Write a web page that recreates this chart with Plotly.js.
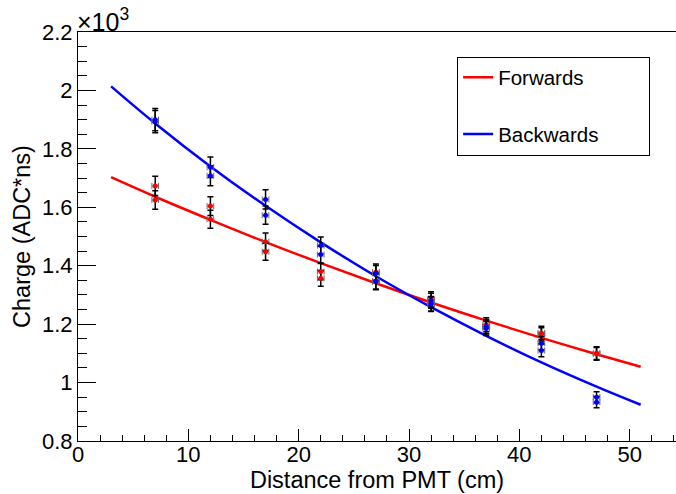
<!DOCTYPE html>
<html>
<head>
<meta charset="utf-8">
<script src="https://cdn.plot.ly/plotly-3.0.1.min.js"></script>
<style>html,body{margin:0;padding:0;background:#fff;}#chart{width:676px;height:494px;}</style>
</head>
<body>
<div id="chart"></div>
<script>
// Measured points (cm, charge in 10^3 ADC*ns)
const xPoints = [7,7,12,12,17,17,22,22,27,27,32,32,37,37,42,42,47,47];
const forwardsCharge = [1.673,1.625,1.604,1.559,1.482,1.448,1.380,1.357,1.378,1.345,1.285,1.270,1.198,1.190,1.170,1.165,1.101,1.098];
const forwardsErr = [0.033,0.032,0.032,0.031,0.030,0.029,0.028,0.027,0.028,0.027,0.026,0.025,0.024,0.024,0.023,0.023,0.022,0.022];
const backwardsCharge = [1.900,1.893,1.737,1.708,1.627,1.573,1.469,1.438,1.374,1.347,1.280,1.268,1.192,1.185,1.135,1.110,0.950,0.933];
const backwardsErr = [0.038,0.038,0.035,0.034,0.033,0.031,0.029,0.029,0.027,0.027,0.026,0.025,0.024,0.024,0.023,0.022,0.019,0.019];
const xErr = [0.3,0.3,0.3,0.3,0.3,0.3,0.3,0.3,0.3,0.3,0.3,0.3,0.3,0.3,0.3,0.3,0.3,0.3];

// Fit curves
const xFit = [3,7,12,17,22,27,32,37,42,47,51];
const forwardsFit = [1.703,1.636,1.557,1.481,1.409,1.340,1.274,1.212,1.153,1.097,1.054];
const backwardsFit = [2.014,1.887,1.740,1.605,1.480,1.364,1.258,1.160,1.069,0.986,0.924];

const seriesNames = ['Forwards', 'Backwards'];

const yTickVals = [0.8,1.0,1.2,1.4,1.6,1.8,2.0,2.2];
const yTickText = ['0.8','1','1.2','1.4','1.6','1.8','2','2.2'];
const xTickVals = [0,10,20,30,40,50];
const xTickText = ['0','10','20','30','40','50'];

const FONT = 'Liberation Sans, Arial, Helvetica, sans-serif';
const PAD = '\u00a0\u00a0\u00a0\u00a0\u00a0\u00a0\u00a0\u00a0';

function pointTrace(y, err, color) {
  return {
    x: xPoints, y: y, type: 'scatter', mode: 'markers', showlegend: false,
    marker: {color: color, size: 5},
    error_x: {type: 'data', array: xErr, visible: true, color: '#666', thickness: 1, width: 3},
    error_y: {type: 'data', array: err, visible: true, color: '#000', thickness: 1.5, width: 3},
    hoverinfo: 'skip'
  };
}

const traces = [
  {x: xFit, y: forwardsFit, type: 'scatter', mode: 'lines', name: seriesNames[0] + PAD,
   line: {color: '#ff0000', width: 2.5, shape: 'spline'}, legendgroup: 'f'},
  {x: xFit, y: backwardsFit, type: 'scatter', mode: 'lines', name: seriesNames[1] + PAD,
   line: {color: '#0000ff', width: 2.5, shape: 'spline'}, legendgroup: 'b'},
  pointTrace(forwardsCharge, forwardsErr, '#ff0000'),
  pointTrace(backwardsCharge, backwardsErr, '#0000ff')
];

const layout = {
  width: 676, height: 494,
  margin: {l: 78, r: 0, t: 32, b: 53, pad: 0},
  paper_bgcolor: '#fff', plot_bgcolor: '#fff',
  font: {family: FONT, size: 22, color: '#000'},
  showlegend: true,
  legend: {
    x: 0.634, y: 0.94, xanchor: 'left', yanchor: 'top',
    bordercolor: '#000', borderwidth: 1, bgcolor: '#fff',
    font: {family: FONT, size: 20.5, color: '#000'},
    traceorder: 'grouped', tracegroupgap: 27,
    itemwidth: 30
  },
  xaxis: {
    range: [0, 54.2], showgrid: false, zeroline: false,
    showline: true, linecolor: '#000', linewidth: 1, mirror: true,
    ticks: 'inside', ticklen: 12, tickcolor: '#000', tickwidth: 1,
    tickvals: xTickVals, ticktext: xTickText, ticklabelstandoff: -6,
    minor: {dtick: 2, ticks: 'inside', ticklen: 6, tickcolor: '#000', showgrid: false},
    tickfont: {family: FONT, size: 22},
    title: {text: 'Distance from PMT (cm)', font: {family: FONT, size: 23.5}, standoff: 0}
  },
  yaxis: {
    range: [0.8, 2.2], showgrid: false, zeroline: false,
    showline: true, linecolor: '#000', linewidth: 1, mirror: true,
    ticks: 'inside', ticklen: 18, tickcolor: '#000', tickwidth: 1,
    tickvals: yTickVals, ticktext: yTickText,
    minor: {dtick: 0.05, ticks: 'inside', ticklen: 9, tickcolor: '#000', showgrid: false},
    tickfont: {family: FONT, size: 22},
    title: {text: 'Charge (ADC*ns)', font: {family: FONT, size: 23.5}, standoff: 4}
  },
  annotations: [{
    xref: 'paper', yref: 'paper', x: 0, y: 1, xanchor: 'left', yanchor: 'bottom',
    text: '×10<sup>3</sup>', showarrow: false, font: {family: FONT, size: 25}, yshift: -6, xshift: -3
  }]
};

Plotly.newPlot('chart', traces, layout, {staticPlot: true});
</script>
</body>
</html>
